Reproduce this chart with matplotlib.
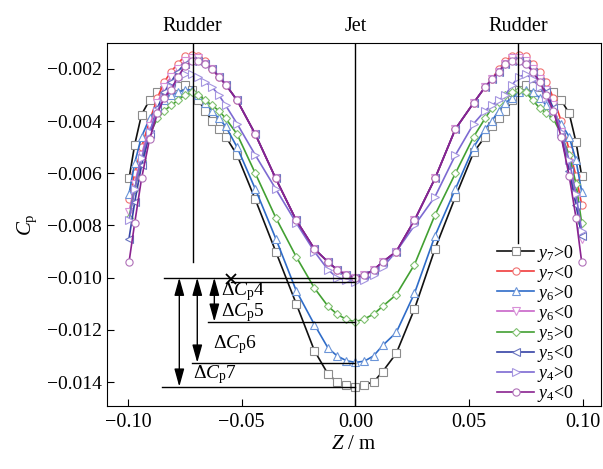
import matplotlib
matplotlib.use("Agg")
import matplotlib.pyplot as plt
import numpy as np

plt.rcParams['font.family'] = ['Liberation Serif', 'DejaVu Serif']
plt.rcParams['mathtext.fontset'] = 'custom'
plt.rcParams['mathtext.rm'] = 'Liberation Serif'
plt.rcParams['mathtext.it'] = 'Liberation Serif:italic'

# probe positions along Z (m)
z = [-0.0995, -0.097, -0.094, -0.0905, -0.087, -0.084, -0.081, -0.078, -0.075, -0.072,
     -0.069, -0.066, -0.063, -0.060, -0.057, -0.052, -0.044, -0.035, -0.026, -0.018,
     -0.012, -0.008, -0.004, 0.0,
     0.004, 0.008, 0.012, 0.018, 0.026, 0.035, 0.044, 0.052, 0.057, 0.060,
     0.063, 0.066, 0.069, 0.072, 0.075, 0.078, 0.081, 0.084, 0.087, 0.0905,
     0.094, 0.097, 0.0995]

y7_pos = [-0.0062, -0.0049, -0.00375, -0.0032, -0.0029, -0.0028, -0.0027, -0.00265, -0.0026, -0.0028,
          -0.0032, -0.0036, -0.0040, -0.0043, -0.0046, -0.0053, -0.0070, -0.0090, -0.0110, -0.0128,
          -0.0137, -0.0140, -0.0141, -0.01418,
          -0.0141, -0.0140, -0.0136, -0.0129, -0.0112, -0.0089, -0.0069, -0.0052, -0.0046, -0.0042,
          -0.0039, -0.0036, -0.0032, -0.0028, -0.0026, -0.00265, -0.0027, -0.0028, -0.0029, -0.0032,
          -0.0037, -0.0048, -0.0061]
y7_neg = [-0.0070, -0.0060, -0.0050, -0.0040, -0.0031, -0.0025, -0.0021, -0.0018, -0.0015, -0.00145,
          -0.0015, -0.0017, -0.0020, -0.0023, -0.0026, -0.0032, -0.0045, -0.0062, -0.0078, -0.0089,
          -0.0094, -0.0097, -0.0099, -0.0100,
          -0.0099, -0.0097, -0.0094, -0.0090, -0.0078, -0.0062, -0.0043, -0.0033, -0.0027, -0.0024,
          -0.0020, -0.0017, -0.0015, -0.00145, -0.0015, -0.0018, -0.0021, -0.0025, -0.0031, -0.0040,
          -0.0051, -0.0061, -0.0072]
y6_pos = [-0.0068, -0.0056, -0.0046, -0.0039, -0.0035, -0.0032, -0.0030, -0.0029, -0.0028, -0.0028,
          -0.0030, -0.0033, -0.0036, -0.0039, -0.0042, -0.0050, -0.0066, -0.0085, -0.0105, -0.0118,
          -0.0127, -0.0130, -0.01318, -0.01325,
          -0.0132, -0.0130, -0.0126, -0.0121, -0.0106, -0.0084, -0.0066, -0.0050, -0.0043, -0.0040,
          -0.0036, -0.0033, -0.0031, -0.0029, -0.0028, -0.0029, -0.0031, -0.0034, -0.0037, -0.0041,
          -0.0046, -0.0055, -0.0067]
y6_neg = [-0.0075, -0.0064, -0.0053, -0.0042, -0.0033, -0.0027, -0.0023, -0.0020, -0.0017, -0.0016,
          -0.0016, -0.0018, -0.0020, -0.0023, -0.0026, -0.0032, -0.0045, -0.0062, -0.0078, -0.0089,
          -0.0094, -0.0097, -0.0099, -0.0100,
          -0.0099, -0.0097, -0.0094, -0.0090, -0.0078, -0.0062, -0.0043, -0.0033, -0.0027, -0.0024,
          -0.0021, -0.0018, -0.0016, -0.0016, -0.0017, -0.0020, -0.0024, -0.0028, -0.0034, -0.0044,
          -0.0056, -0.0070, -0.0085]
y5_pos = [-0.0077, -0.0066, -0.0055, -0.0045, -0.0039, -0.0036, -0.0034, -0.0032, -0.0030, -0.0029,
          -0.0030, -0.0032, -0.0034, -0.0036, -0.0039, -0.0045, -0.0060, -0.0077, -0.0092, -0.0104,
          -0.0111, -0.0114, -0.0116, -0.01169,
          -0.01158, -0.0114, -0.0111, -0.01065, -0.0095, -0.0076, -0.0060, -0.0046, -0.0039, -0.0035,
          -0.00326, -0.0030, -0.0029, -0.0028, -0.0029, -0.0032, -0.0035, -0.0037, -0.0039, -0.0045,
          -0.0053, -0.0064, -0.0079]
y5_neg = [-0.0085, -0.0071, -0.0057, -0.0045, -0.0035, -0.0029, -0.0025, -0.0021, -0.0018, -0.0017,
          -0.0017, -0.0018, -0.0020, -0.0023, -0.0026, -0.0032, -0.0045, -0.0062, -0.0078, -0.0089,
          -0.0094, -0.0097, -0.0099, -0.0100,
          -0.0099, -0.0097, -0.0094, -0.0090, -0.0078, -0.0062, -0.0043, -0.0033, -0.0027, -0.0024,
          -0.0021, -0.0018, -0.0017, -0.0017, -0.0018, -0.0021, -0.0025, -0.0029, -0.0035, -0.0046,
          -0.0059, -0.0072, -0.0084]
y4_pos = [-0.0078, -0.0066, -0.0054, -0.0044, -0.0036, -0.0031, -0.0027, -0.0024, -0.0022, -0.0022,
          -0.0023, -0.0025, -0.0027, -0.0030, -0.0034, -0.0041, -0.0053, -0.0066, -0.0079, -0.0090,
          -0.0097, -0.0100, -0.0101, -0.01015,
          -0.0101, -0.0099, -0.0096, -0.0090, -0.0080, -0.0069, -0.0053, -0.0041, -0.0036, -0.0034,
          -0.0032, -0.0030, -0.0026, -0.0023, -0.0022, -0.0024, -0.0027, -0.0031, -0.0036, -0.0044,
          -0.0055, -0.0068, -0.0082]
y4_neg = [-0.0094, -0.0079, -0.0062, -0.0047, -0.0037, -0.0031, -0.0028, -0.0023, -0.0019, -0.0017,
          -0.0017, -0.0018, -0.0020, -0.0023, -0.0026, -0.0032, -0.0045, -0.0062, -0.0078, -0.0089,
          -0.0094, -0.0097, -0.0099, -0.0100,
          -0.0099, -0.0097, -0.0094, -0.0090, -0.0078, -0.0062, -0.0043, -0.0033, -0.0027, -0.0024,
          -0.0021, -0.0018, -0.0017, -0.0017, -0.0018, -0.0021, -0.0025, -0.0030, -0.0036, -0.0046,
          -0.0061, -0.0077, -0.0094]

series = [
    (r'$y_7$>0', y7_pos, '#111111', '#8c8c8c', 's'),
    (r'$y_7$<0', y7_neg, '#f03c3c', '#f07070', 'o'),
    (r'$y_6$>0', y6_pos, '#2f6cc8', '#6c95d8', '^'),
    (r'$y_6$<0', y6_neg, '#c865c8', '#d890d8', 'v'),
    (r'$y_5$>0', y5_pos, '#42a032', '#80c070', 'D'),
    (r'$y_5$<0', y5_neg, '#3542a5', '#6a75c0', '<'),
    (r'$y_4$>0', y4_pos, '#7d6ad2', '#a595e0', '>'),
    (r'$y_4$<0', y4_neg, '#8a2390', '#b070b8', 'o'),
]

# pressure drop levels (baseline and minima)
base = -0.0100
levels = [-0.01015, -0.01169, -0.01326, -0.01418]
line_start = [-0.0545, -0.0646, -0.0717, -0.0849]
arrow_x = [-0.062, -0.0695, -0.0774]
dlabels = [r'$\Delta C_\mathrm{p}4$', r'$\Delta C_\mathrm{p}5$', r'$\Delta C_\mathrm{p}6$', r'$\Delta C_\mathrm{p}7$']
dlabel_pos = [(-0.0590, -0.01055), (-0.0590, -0.01133), (-0.0625, -0.01257), (-0.0712, -0.01372)]

fig = plt.figure(figsize=(6.03, 4.69), dpi=100)
ax = fig.add_axes([0.1774, 0.1343, 0.8193, 0.774])

for lab, vals, col, mcol, mk in series:
    ms = 4.5 if mk == 'D' else 5.2
    ax.plot(z, vals, color=col, lw=1.2, marker=mk, ms=ms, mfc='white', mec=mcol, mew=0.8, label=lab)

# rudder and jet lines
ax.plot([-0.0715, -0.0715], [-0.0005, -0.0094], color='k', lw=1)
ax.plot([0.0715, 0.0715], [-0.0005, -0.00866], color='k', lw=1)
ax.axvline(0.0, color='k', lw=1)
for xx, t in [(-0.0715, 'Rudder'), (0.0, 'Jet'), (0.0715, 'Rudder')]:
    ax.text(xx, 1.02, t, transform=ax.get_xaxis_transform(), ha='center', va='bottom', fontsize=14.5)

ax.plot([-0.0842, 0.0], [base, base], color='k', lw=1)
for lv, xs in zip(levels, line_start):
    ax.plot([xs, 0.0], [lv, lv], color='k', lw=1)
for xa, lv in zip(arrow_x, levels[1:]):
    ax.annotate('', xy=(xa, lv), xytext=(xa, base),
                arrowprops=dict(arrowstyle='<|-|>,head_length=0.9,head_width=0.25', color='k', lw=1,
                                mutation_scale=12, shrinkA=0, shrinkB=0))
ax.plot([-0.0545], [-0.01005], marker='x', color='k', ms=7, mew=1.3)
for t, (tx, ty) in zip(dlabels, dlabel_pos):
    ax.text(tx, ty, t, fontsize=14, ha='left', va='center')

ax.set_xlim(-0.1092, 0.108)
ax.set_ylim(-0.01492, -0.001007)
ax.set_xticks([-0.10, -0.05, 0.0, 0.05, 0.10])
ax.set_xticklabels(['\u22120.10', '\u22120.05', '0.00', '0.05', '0.10'])
ax.set_yticks([-0.014, -0.012, -0.010, -0.008, -0.006, -0.004, -0.002])
ax.set_yticklabels(['\u22120.014', '\u22120.012', '\u22120.010', '\u22120.008', '\u22120.006', '\u22120.004', '\u22120.002'])
ax.tick_params(direction='in', length=5, labelsize=14.5, top=False, right=False)
ax.tick_params(axis='y', labelsize=14)
ax.tick_params(axis='x', pad=5)
ax.set_xlabel(r'$Z$ / m', fontsize=15, labelpad=2)
ax.set_ylabel(r'$C_\mathrm{p}$', fontsize=15, labelpad=6)

ax.legend(loc='lower right', bbox_to_anchor=(0.945, 0.005), frameon=False, fontsize=13,
          handlelength=2.1, handletextpad=0.15, labelspacing=-0.05, borderaxespad=0, borderpad=0)

fig.savefig('out.png', dpi=100)
